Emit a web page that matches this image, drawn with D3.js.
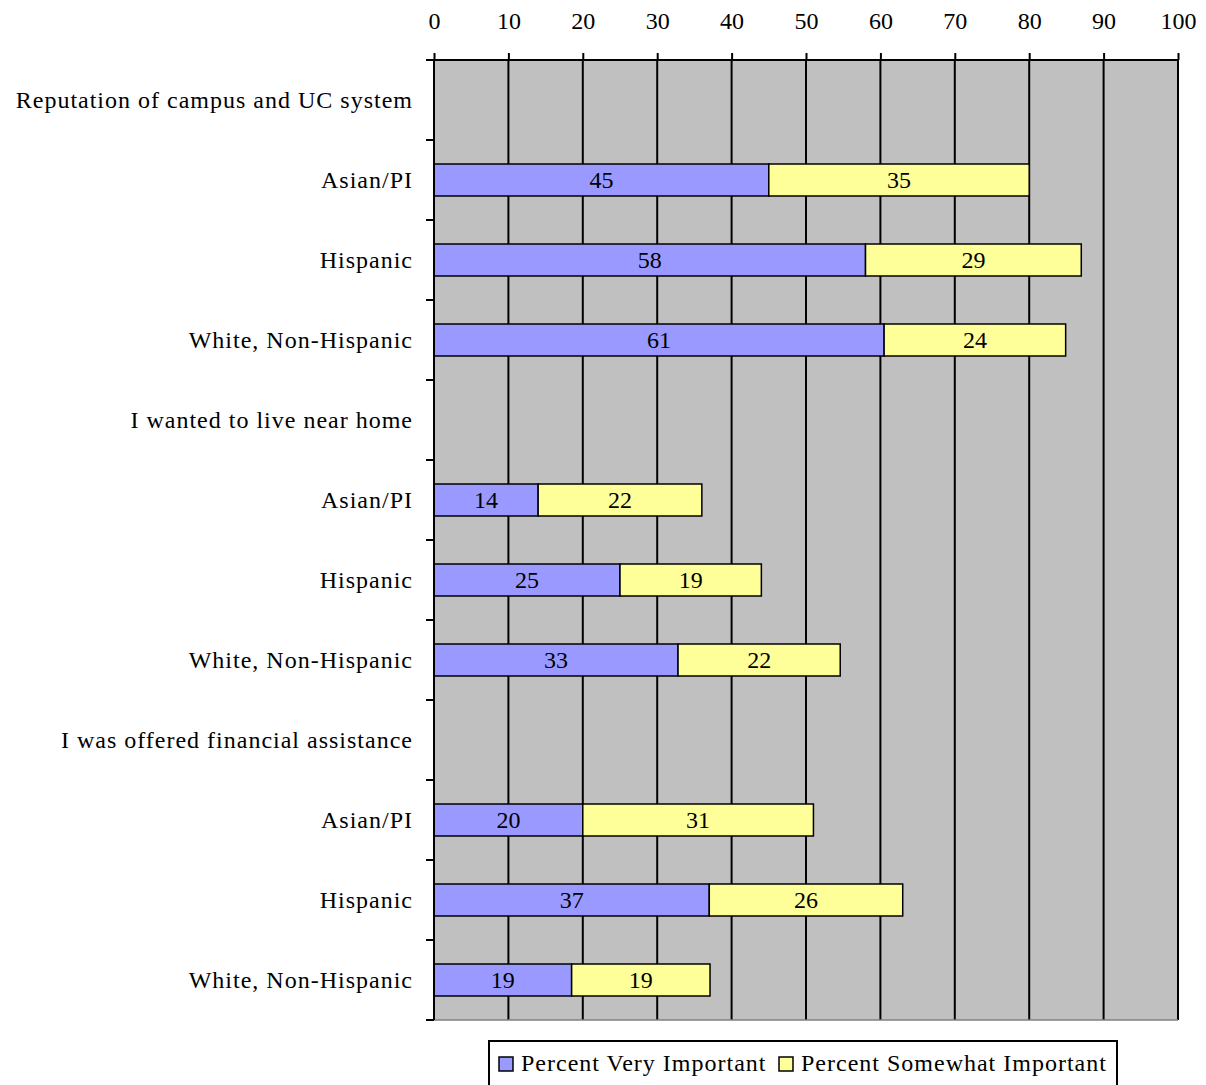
<!DOCTYPE html>
<html><head><meta charset="utf-8">
<script src="https://cdn.jsdelivr.net/npm/d3@7"></script>
<style>body{margin:0;background:#fff}svg{display:block}text{font-family:"Liberation Serif","Times New Roman",serif;fill:#000}</style>
</head><body><svg id="c" width="1206" height="1085"></svg>
<script>
const rows = ["Reputation of campus and UC system","Asian/PI","Hispanic","White, Non-Hispanic",
  "I wanted to live near home","Asian/PI","Hispanic","White, Non-Hispanic",
  "I was offered financial assistance","Asian/PI","Hispanic","White, Non-Hispanic"];
const veryImportant = [null,45,58,60.5,null,14,25,32.8,null,20,37,18.5];
const somewhatImportant = [null,35,29,24.4,null,22,19,21.8,null,31,26,18.6];
const seriesNames = ["Percent Very Important","Percent Somewhat Important"];
const colors = ["#9999FF","#FFFF99"];
const xTicks = [0,10,20,30,40,50,60,70,80,90,100];

const svg = d3.select("#c");
const L=434, R=1178, T=60, B=1020;
const FS = 24;
const x = d3.scaleLinear().domain([0,100]).range([L,R]);
const yRow = d3.scaleBand().domain(d3.range(rows.length)).range([T,B]);

svg.append("rect").attr("x",L).attr("y",T).attr("width",R-L).attr("height",B-T).attr("fill","#C0C0C0");
// grid
svg.append("g").selectAll("line").data(xTicks.slice(1)).join("line")
  .attr("x1",d=>x(d)).attr("x2",d=>x(d)).attr("y1",T).attr("y2",B)
  .attr("stroke","#000").attr("stroke-width",2);
svg.append("line").attr("x1",L).attr("x2",R).attr("y1",T).attr("y2",T).attr("stroke","#000").attr("stroke-width",2);
svg.append("line").attr("x1",L).attr("x2",R).attr("y1",B).attr("y2",B).attr("stroke","#808080").attr("stroke-width",1.5);

// bars
const data = rows.map((r,i)=>({i, v:[veryImportant[i],somewhatImportant[i]]})).filter(d=>d.v[0]!=null);
const bh = 32;
data.forEach(d=>{
  let acc=0;
  d.v.forEach((v,k)=>{
    const x0=x(acc), x1=x(acc+v);
    const yc = yRow(d.i)+yRow.bandwidth()/2;
    svg.append("rect").attr("x",x0).attr("y",yc-bh/2).attr("width",x1-x0).attr("height",bh)
      .attr("fill",colors[k]).attr("stroke","#000").attr("stroke-width",1.5);
    svg.append("text").attr("x",(x0+x1)/2).attr("y",yc).attr("dy","0.35em").attr("text-anchor","middle")
      .attr("font-size",FS).text(Math.round(v));
    acc+=v;
  });
});

// top axis
const ax = svg.append("g").attr("transform",`translate(0,${T})`).call(d3.axisTop(x).tickValues(xTicks).tickSize(7).tickPadding(24).tickFormat(d3.format("d")));
ax.select(".domain").remove();
ax.selectAll("line").attr("stroke","#000").attr("stroke-width",2);
ax.selectAll("text").attr("font-size",FS).attr("fill","#000").attr("font-family","Liberation Serif");

// left axis
svg.append("line").attr("x1",L).attr("x2",L).attr("y1",T).attr("y2",B).attr("stroke","#000").attr("stroke-width",2);
svg.append("g").selectAll("line").data(d3.range(rows.length+1)).join("line")
  .attr("x1",L-8).attr("x2",L).attr("y1",d=>T+d*yRow.step()).attr("y2",d=>T+d*yRow.step())
  .attr("stroke","#000").attr("stroke-width",2);
svg.append("g").selectAll("text").data(rows).join("text")
  .attr("x",413).attr("y",(d,i)=>yRow(i)+yRow.bandwidth()/2).attr("dy","0.33em")
  .attr("text-anchor","end").attr("font-size",FS).attr("letter-spacing","1px").text(d=>d);

// legend
const lg = svg.append("g");
lg.append("rect").attr("x",489).attr("y",1041).attr("width",628).attr("height",60).attr("fill","#fff").attr("stroke","#000").attr("stroke-width",2);
const lx=[499,779];
seriesNames.forEach((n,k)=>{
  lg.append("rect").attr("x",lx[k]).attr("y",1057).attr("width",14).attr("height",14).attr("fill",colors[k]).attr("stroke","#000").attr("stroke-width",1.5);
  lg.append("text").attr("x",lx[k]+22).attr("y",1063).attr("dy","0.35em").attr("font-size",FS).attr("letter-spacing","1px").text(n);
});
</script></body></html>
